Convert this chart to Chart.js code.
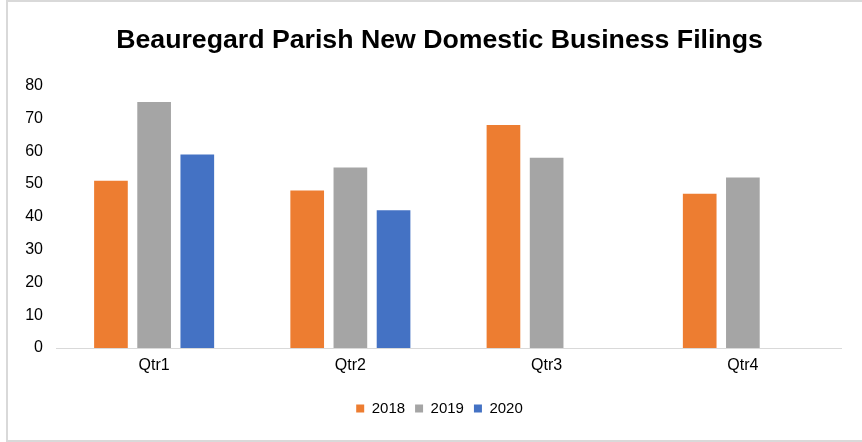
<!DOCTYPE html>
<html>
<head>
<meta charset="utf-8">
<script src="https://cdn.jsdelivr.net/npm/chart.js@4.4.1/dist/chart.umd.min.js"></script>
<style>
  html, body { margin: 0; padding: 0; background: #fff; overflow: hidden; }
  #frame {
    position: absolute; left: 6px; top: 0px;
    width: 860px; height: 438px;
    border: 2px solid #d9d9d9;
  }
  #wrap { position: absolute; left: 0; top: 0; width: 854px; height: 438px; }
</style>
</head>
<body>
<div id="frame">
  <div id="wrap"><canvas id="myChart"></canvas></div>
</div>
<script>
// ---- chart data ----
let quarters = ["Qtr1", "Qtr2", "Qtr3", "Qtr4"];
let filings_2018 = [51, 48, 68, 47];
let filings_2019 = [75, 55, 58, 52];
let filings_2020 = [59, 42, null, null];
let y_ticks = [0, 10, 20, 30, 40, 50, 60, 70, 80];

let font_name = "'Liberation Sans', Arial, sans-serif";

Chart.defaults.font.family = font_name;
Chart.defaults.color = "#000";

function make_set(label, values, color) {
  return {
    label: label,
    data: values,
    backgroundColor: color,
    borderWidth: 0,
    barPercentage: 0.78,
    categoryPercentage: 0.66,
  };
}

// title + legend are centred on the whole frame in the original, not on the plot box
let center_shift = {
  id: "center_shift",
  afterLayout(chart) {
    chart.titleBlock.left += 14;
    chart.legend.left += 14;
  },
};

new Chart("myChart", {
  type: "bar",
  data: {
    labels: quarters,
    datasets: [
      make_set("2018", filings_2018, "#ed7d31"),
      make_set("2019", filings_2019, "#a5a5a5"),
      make_set("2020", filings_2020, "#4472c4"),
    ],
  },
  options: {
    responsive: true,
    maintainAspectRatio: false,
    animation: false,
    layout: { padding: { left: 16, right: 21, top: 22.5, bottom: 14 } },
    plugins: {
      title: {
        display: true,
        text: "Beauregard Parish New Domestic Business Filings",
        color: "#000",
        font: { size: 26.7, weight: "bold", family: font_name },
        padding: { top: 0, bottom: 29 },
      },
      legend: {
        position: "bottom",
        labels: {
          boxWidth: 8,
          boxHeight: 8,
          padding: 10,
          color: "#000",
          font: { size: 15 },
        },
      },
      tooltip: { enabled: false },
    },
    scales: {
      x: {
        grid: { display: false, drawTicks: false },
        border: { color: "#d9d9d9", width: 1 },
        ticks: { font: { size: 16 }, padding: 8 },
        afterFit: (axis) => { axis.height = 43; },
      },
      y: {
        min: 0,
        max: 80,
        afterBuildTicks: (axis) => { axis.ticks = y_ticks.map((v) => ({ value: v })); },
        afterFit: (axis) => { axis.width = 32; },
        grid: { display: false, drawTicks: false },
        border: { display: false },
        ticks: { font: { size: 16 }, padding: 13 },
      },
    },
  },
  plugins: [center_shift],
});
</script>
</body>
</html>
